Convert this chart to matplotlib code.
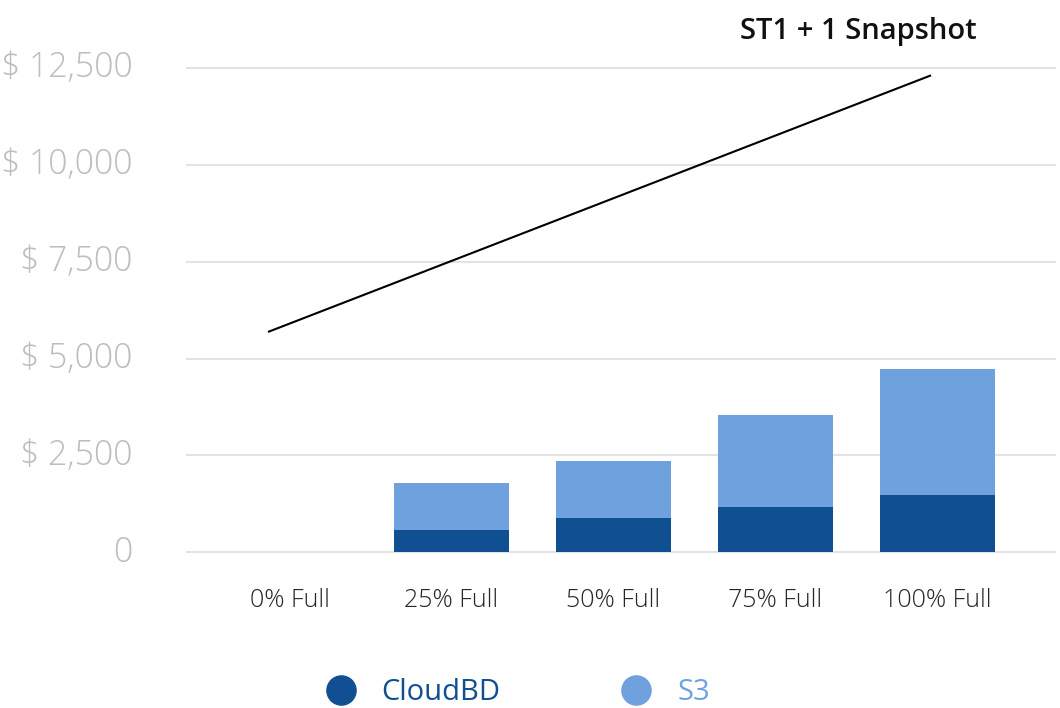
import matplotlib
matplotlib.use("Agg")
import matplotlib.pyplot as plt
from matplotlib.ticker import FuncFormatter, FixedLocator
from matplotlib.lines import Line2D
from matplotlib.transforms import ScaledTranslation

plt.rcParams['font.family'] = ['Open Sans', 'DejaVu Sans']

categories = ["0% Full", "25% Full", "50% Full", "75% Full", "100% Full"]
cloudbd = [0, 576, 894, 1170, 1480]
s3_total = [0, 1782, 2358, 3546, 4734]
s3 = [t - c for t, c in zip(s3_total, cloudbd)]
line_x_pct = [0, 100]
line_y = [5697, 12301]
y_ticks = [0, 2500, 5000, 7500, 10000, 12500]

dark = "#114f93"
light = "#6fa1de"

fig = plt.figure(figsize=(10.6, 7.08), dpi=100)
W, H = 1060, 708
left, right, bottom, top = 187 / W, 1055 / W, 1 - 552.3 / H, 1 - 68 / H
ax = fig.add_axes([left, bottom, right - left, top - bottom])

x = list(range(len(categories)))
ax.bar(x, cloudbd, width=0.707, color=dark, zorder=2)
ax.bar(x, s3, bottom=cloudbd, width=0.707, color=light, zorder=2)

ax.set_xlim(-0.634, 4.727)
ax.set_ylim(0, 12500)
ax.yaxis.set_major_locator(FixedLocator(y_ticks))
ax.yaxis.set_major_formatter(FuncFormatter(lambda v, p: "0" if v == 0 else "$ {:,.0f}".format(v)))
ax.set_xticks(x)
ax.set_xticklabels(categories)
ax.grid(axis='y', color="#e3e3e3", linewidth=1.5, zorder=0)
for gl in ax.get_ygridlines():
    gl.set_clip_on(False)
ax.set_axisbelow(True)
for s in ax.spines.values():
    s.set_visible(False)
ax.tick_params(axis='y', length=0, pad=39, labelsize=24.3, labelcolor="#bdbdbd")
ax.tick_params(axis='x', length=0, pad=26, labelsize=18, labelcolor="#262626")
shift = ScaledTranslation(0, 4 / 100, fig.dpi_scale_trans)
for t in ax.get_yticklabels():
    t.set_fontweight('light')
    t.set_transform(t.get_transform() + shift)
for t in ax.get_xticklabels():
    t.set_fontweight('light')

# line on its own percentage x scale
ax2 = ax.twiny()
ax2.set_xlim(-12.4, 118.9)
ax2.set_ylim(0, 12500)
ax2.plot(line_x_pct, line_y, color="black", linewidth=1.5, zorder=3)
ax2.axis('off')

fig.text(858 / W, 1 - 32 / H, "ST1 + 1 Snapshot", ha='center', va='center',
         fontsize=21, fontweight='semibold', color="#111111")

# legend
handles = [Line2D([], [], marker='o', linestyle='none', markersize=21, color=dark),
           Line2D([], [], marker='o', linestyle='none', markersize=21, color=light)]
leg = fig.legend(handles, ["CloudBD", "S3"], loc='center', bbox_to_anchor=(518 / W, 1 - 693 / H),
                 ncol=2, frameon=False, fontsize=21, columnspacing=4.15, handletextpad=0.9,
                 handlelength=1.0)
for t, c in zip(leg.get_texts(), [dark, light]):
    t.set_color(c)

fig.savefig("out.png", dpi=100)
